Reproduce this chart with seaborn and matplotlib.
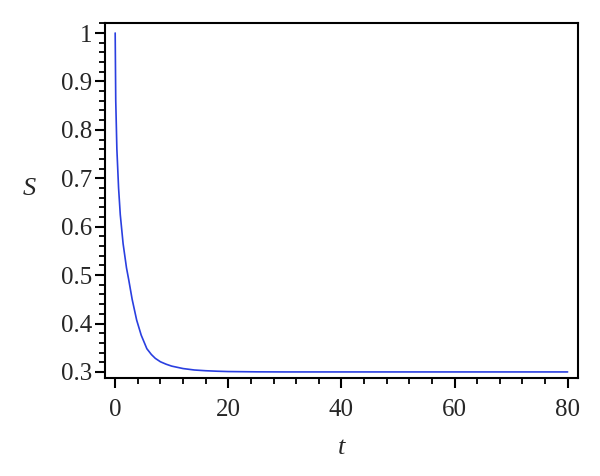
import matplotlib
matplotlib.use("Agg")
import matplotlib.pyplot as plt
import seaborn as sns
import pandas as pd
from matplotlib.ticker import MultipleLocator

t_vals = [0, 0.1, 0.3, 0.6, 0.9, 1.4, 2.0, 2.4, 3.0, 3.8, 4.6, 5.6, 6.4, 7.1, 8, 9, 10,
          12, 14, 16, 18, 20, 25, 30, 40, 50, 60, 70, 80]
S_vals = [1.0, 0.86, 0.76, 0.68, 0.625, 0.565, 0.515, 0.49, 0.45, 0.407, 0.376, 0.348,
          0.336, 0.328, 0.321, 0.316, 0.312, 0.307, 0.304, 0.3025, 0.3015, 0.3008, 0.3002,
          0.3, 0.3, 0.3, 0.3, 0.3, 0.3]
x_ticks = [0, 20, 40, 60, 80]
y_ticks = [0.3, 0.4, 0.5, 0.6, 0.7, 0.8, 0.9, 1.0]
y_tick_labels = ["0.3", "0.4", "0.5", "0.6", "0.7", "0.8", "0.9", "1"]

sns.set_style("ticks")
plt.rcParams['font.family'] = ['Liberation Serif', 'DejaVu Serif']

df = pd.DataFrame({"t": t_vals, "S": S_vals})

fig = plt.figure(figsize=(6, 4.76), dpi=100)
ax = fig.add_axes([0.175, 0.206, 0.788, 0.746])
sns.lineplot(data=df, x="t", y="S", ax=ax, color="#2a3fe0", linewidth=1.2)

ax.set_xlim(-1.8, 81.8)
ax.set_ylim(0.2876, 1.021)
ax.set_xticks(x_ticks)
ax.set_xticklabels([str(v) for v in x_ticks])
ax.set_yticks(y_ticks)
ax.set_yticklabels(y_tick_labels)
ax.xaxis.set_minor_locator(MultipleLocator(4))
ax.yaxis.set_minor_locator(MultipleLocator(0.02))
ax.tick_params(which="major", direction="out", length=7, width=1.5, labelsize=18, color="black")
ax.tick_params(axis="x", which="major", pad=8)
ax.tick_params(axis="y", which="major", pad=2)
ax.tick_params(which="minor", direction="out", length=4, width=1.3, color="black")
for s in ax.spines.values():
    s.set_visible(True)
    s.set_linewidth(1.5)
    s.set_color("black")

ax.set_xlabel("t", fontsize=19, style="italic")
ax.set_ylabel("S", fontsize=19, style="italic", rotation=0)
ax.yaxis.set_label_coords(-0.16, 0.5)
ax.xaxis.set_label_coords(0.5, -0.165)

fig.savefig("out.png", dpi=100)
